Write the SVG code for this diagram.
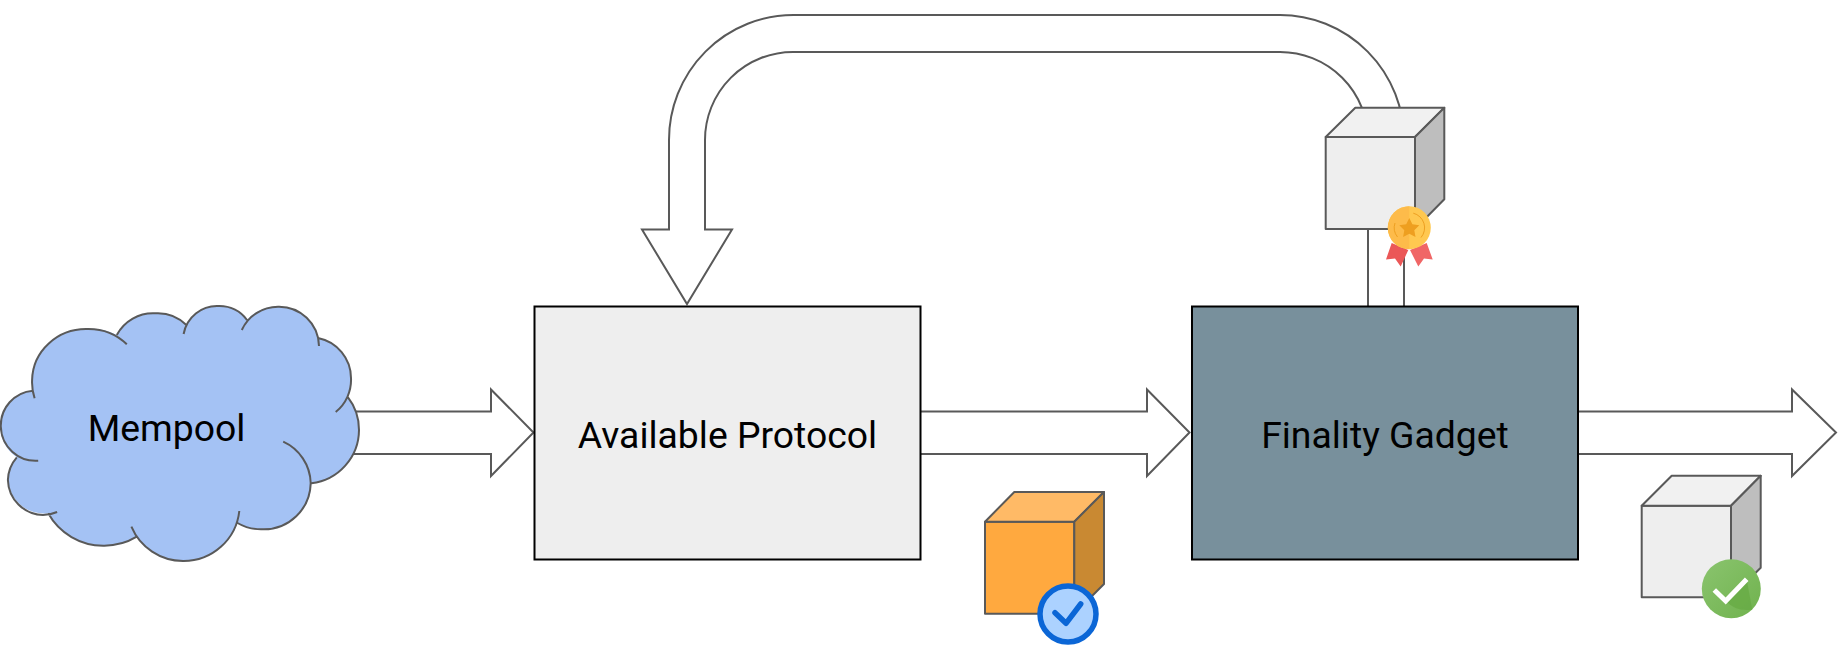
<svg xmlns="http://www.w3.org/2000/svg" width="1845" height="649" viewBox="0 0 1845 649">
<style>
.arrow{fill:#fff;stroke:#595959;stroke-width:2;stroke-linejoin:miter}
.box{stroke:#000;stroke-width:2}
.label{font-family:Roboto,"Liberation Sans",sans-serif;font-size:37.330px;fill:#000;text-anchor:middle}
.cube path{stroke:#595959;stroke-width:2;stroke-linejoin:round}
</style>
<defs>
<linearGradient id="greenBadge" x1="0" y1="0" x2="1" y2="1"><stop offset="0" stop-color="#8AC46E"/><stop offset="1" stop-color="#70B24E"/></linearGradient>
</defs>
<g id="connectors">
<path id="arrow-mempool" class="arrow" d="M330,411.500H491V389.500L533.500,432.500L491,476V454H330Z"/>
<path id="arrow-available" class="arrow" d="M920,411.500H1147V389.500L1189.500,432.500L1147,476V454H920"/>
<path id="arrow-finality" class="arrow" d="M1578,411.500H1792V389.500L1836,432.500L1792,476V454H1578"/>
<path id="arrow-feedback" class="arrow" d="M1404,306V140A124,125 0 0 0 1280,15H793.500A124.500,125 0 0 0 669,140V229.500H642L687,304L732,229.500H705V140A88,88 0 0 1 793.500,52H1280A88,88 0 0 1 1368,140V306"/>
</g>
<g id="mempool">
<path fill="#A4C2F4" d="M32.900,390.700A54,52 0 0 1 87.500,329A54,52 0 0 1 116.800,335A41,41 0 0 1 155,313.300A41,41 0 0 1 186.400,325A34,34 0 0 1 218.600,306A34,34 0 0 1 247,320A40,40 0 0 1 278,306.700A40,40 0 0 1 318,338A41,41 0 0 1 351,378A41,41 0 0 1 347.500,396.700A54,54 0 0 1 359,430A54,54 0 0 1 311.400,483.300A47,47 0 0 1 262.500,529.300A47,47 0 0 1 237.500,523A56,56 0 0 1 183.200,561A56,56 0 0 1 136.800,536.700A63,63 0 0 1 103.600,545.700A63,63 0 0 1 48.200,513.300A36,36 0 0 1 7.900,480A36,36 0 0 1 16.800,457.300A35,35 0 0 1 0.800,426.700A35,35 0 0 1 32.900,390.700Z"/>
<path fill="none" stroke="#595959" stroke-width="2" d="M34.600,398.300A54,52 0 0 1 32.100,380A54,52 0 0 1 87.500,329A54,52 0 0 1 126.800,344.300M116.800,335A41,41 0 0 1 155,313.300A41,41 0 0 1 186.400,325M183.600,334A34,34 0 0 1 218.600,306A34,34 0 0 1 247,320M241.800,330A40,40 0 0 1 278,306.700A40,40 0 0 1 319,346M318,338A41,41 0 0 1 351,378A41,41 0 0 1 335.700,412M347.500,396.700A54,54 0 0 1 359,430A54,54 0 0 1 311.400,483.300M283.200,441.700A47,47 0 0 1 310.700,483A47,47 0 0 1 262.500,529.300A47,47 0 0 1 237.500,523M239.300,511A56,56 0 0 1 183.200,561A56,56 0 0 1 131.400,526.700M136.800,536.700A63,63 0 0 1 103.600,545.700A63,63 0 0 1 48.200,513.300M57.100,512A36,36 0 0 1 43,515A36,36 0 0 1 7.900,480A36,36 0 0 1 16.800,457.300M38.200,460.700A35,35 0 0 1 0.800,426.700A35,35 0 0 1 32.900,390.700"/>
<text class="label" x="166.500" y="441">Mempool</text>
</g>
<g id="available-protocol">
<rect class="box" x="534.500" y="306.500" width="386" height="253" fill="#EEEEEE"/>
<text class="label" x="727.500" y="448">Available Protocol</text>
</g>
<g id="finality-gadget">
<rect class="box" x="1192" y="306.500" width="386" height="253" fill="#78909C"/>
<text class="label" x="1385" y="448">Finality Gadget</text>
</g>
<g id="medal-block">
<g class="cube">
<path fill="#EEEEEE" d="M1325.700,137H1415V229H1325.700Z"/>
<path fill="#F1F1F1" d="M1325.700,137L1355.300,107.700H1444.300L1415,137Z"/>
<path fill="#BEBEBE" d="M1415,137L1444.300,107.700V199.300L1415,229Z"/>
</g>
<path fill="#EB5757" d="M1391.700,243L1386,259.500L1395,258.500L1400.700,266.500L1408.300,250Z"/>
<path fill="#F06666" d="M1410,250L1418.300,266.500L1424,258.500L1432.700,259.500L1426.700,243Z"/>
<circle cx="1409.300" cy="227.700" r="21.500" fill="#FFC850"/>
<path fill="#FDBB4A" d="M1409.300,206.200A21.500,21.500 0 0 0 1409.300,249.200Z"/>
<path fill="#EE9F20" d="M1409.300,218L1412.400,224.300L1419.300,225.300L1414.300,230.200L1415.500,237L1409.300,233.800L1403.100,237L1404.300,230.200L1399.300,225.300L1406.200,224.300Z"/>
<path fill="none" stroke="#EE9F20" stroke-width="1" d="M1413.300,213.200A15,15 0 0 1 1421,237.500M1397.500,237A15,15 0 0 1 1395,223"/>
</g>
<g id="available-block">
<g class="cube">
<path fill="#FFA93F" d="M985,521.700H1074.300V613.700H985Z"/>
<path fill="#FFBA66" d="M985,521.700L1014.300,492H1104L1074.300,521.700Z"/>
<path fill="#C98932" d="M1074.300,521.700L1104,492V584L1074.300,613.700Z"/>
</g>
<circle cx="1068" cy="614" r="28" fill="#ACD2FF" stroke="#0B66D6" stroke-width="5.500"/>
<path fill="none" stroke="#0B66D6" stroke-width="5.500" stroke-linecap="round" stroke-linejoin="round" d="M1055,612.700L1066,623.300L1080.700,604"/>
</g>
<g id="final-block">
<g class="cube">
<path fill="#EEEEEE" d="M1641.700,505.700H1731V597.300H1641.700Z"/>
<path fill="#F1F1F1" d="M1641.700,505.700L1671.700,475.700H1760.700L1731,505.700Z"/>
<path fill="#BEBEBE" d="M1731,505.700L1760.700,475.700V567.700L1731,597.300Z"/>
</g>
<circle cx="1731.300" cy="588.700" r="29.500" fill="url(#greenBadge)"/>
<path fill="#68AB45" d="M1746.700,579.300L1752.200,609.500A29.500,29.500 0 0 1 1725.700,601Z" opacity="0.8"/>
<path fill="none" stroke="#fff" stroke-width="5" d="M1714.300,590L1725.700,601L1746.700,579.300"/>
</g>
</svg>
